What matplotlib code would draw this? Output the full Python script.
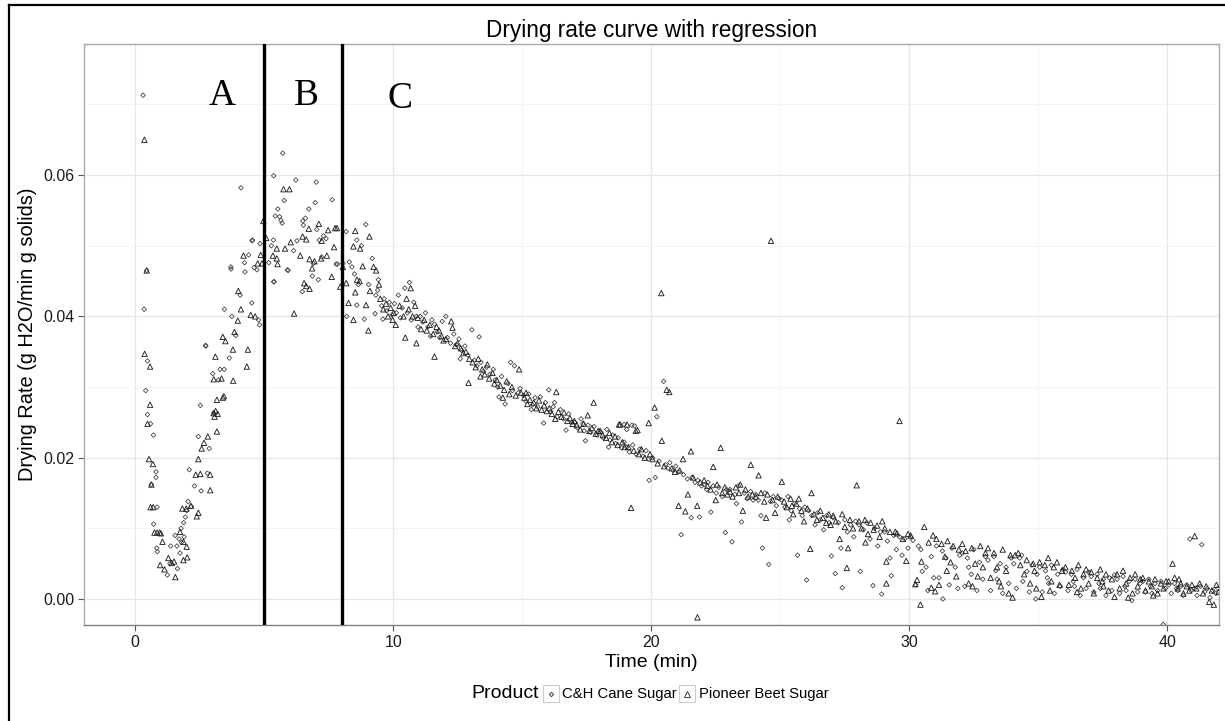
import matplotlib
matplotlib.use("Agg")
import matplotlib.pyplot as plt
from matplotlib.lines import Line2D
from matplotlib.patches import Rectangle
from matplotlib.ticker import MultipleLocator

# ---------------- data ----------------
cane_time = [
    0.31, 0.35, 0.45, 0.48, 0.41, 0.48, 0.60, 0.71, 0.81, 0.81, 0.63, 0.85, 0.72, 0.84, 0.86,
    1.25, 1.38, 1.62, 1.74, 1.64, 1.35, 1.55, 1.70, 1.80, 1.90, 1.78, 1.88, 1.95, 2.00, 2.05,
    2.18, 2.30, 2.56, 2.10, 2.45, 2.87, 2.80, 2.53, 2.73, 2.74, 3.01, 3.05, 3.29, 3.45, 3.23,
    3.46, 3.75, 3.71, 3.72, 4.24, 4.26, 4.61, 4.53, 4.55, 4.84, 4.72, 4.07, 4.52, 4.78, 4.82,
    4.10, 3.65, 3.90, 4.40,
    5.72, 5.37, 6.23, 7.02, 7.64, 5.78, 5.53, 5.43, 5.60, 5.65, 5.70, 6.73, 6.98, 5.36, 5.28,
    6.14, 5.18, 5.93, 5.37, 6.87, 7.10, 6.48, 7.79, 6.27, 6.50, 6.60, 6.52, 7.04, 7.30, 7.14,
    7.40, 7.23, 6.91, 7.84, 5.39, 5.90,
    8.05, 8.18, 8.20, 8.30, 8.40, 8.59, 8.59, 8.77, 8.88, 8.94, 8.65, 8.50,
    9.05, 9.19, 9.33, 9.43, 9.40, 9.55, 9.65, 9.75, 9.85, 9.95, 9.60, 9.30,
    10.05, 10.12, 10.20, 10.28, 10.35, 10.45, 10.55, 10.63, 10.70, 10.80, 10.90, 10.96,
    11.05, 11.15, 11.25, 11.35, 11.50, 11.60, 11.70, 11.90, 11.80, 11.45,
    12.04, 12.10, 12.22, 12.35, 12.45, 12.55, 12.65, 12.78, 12.90, 12.60,
    13.05, 13.15, 13.25, 13.33, 13.40, 13.50, 13.62, 13.75, 13.88, 13.95,
    14.05, 14.10, 14.20, 14.34, 14.45, 14.55, 14.70, 14.85, 14.92, 14.62,
    15.05, 15.15, 15.25, 15.40, 15.50, 15.60, 15.70, 15.83, 15.90, 15.35,
    16.03, 16.10, 16.20, 16.35, 16.48, 16.60, 16.70, 16.80, 16.92, 16.25,
    17.05, 17.15, 17.28, 17.40, 17.45, 17.55, 17.65, 17.78, 17.90, 17.35,
    18.05, 18.15, 18.28, 18.40, 18.50, 18.62, 18.72, 18.85, 18.95, 18.35,
    19.05, 19.15, 19.28, 19.35, 19.42, 19.55, 19.68, 19.80, 19.92, 19.88,
    20.05, 20.16, 20.22, 20.30, 20.48, 20.55, 20.65, 20.72, 20.85, 20.95,
    21.05, 21.16, 21.25, 21.40, 21.55, 21.58, 21.70, 21.80, 21.87, 21.95,
    22.05, 22.15, 22.31, 22.40, 22.52, 22.62, 22.75, 22.87, 22.92, 22.20,
    23.05, 23.13, 23.25, 23.38, 23.50, 23.60, 23.72, 23.85, 23.95, 23.30,
    24.05, 24.15, 24.31, 24.40, 24.55, 24.62, 24.72, 24.85, 24.95, 24.25,
    25.05, 25.18, 25.30, 25.42, 25.55, 25.67, 25.75, 25.85, 25.95, 25.35,
    26.02, 26.10, 26.22, 26.35, 26.45, 26.55, 26.68, 26.80, 26.90, 26.98,
    27.05, 27.13, 27.25, 27.40, 27.50, 27.60, 27.72, 27.85, 27.92, 27.35,
    28.05, 28.10, 28.22, 28.35, 28.48, 28.59, 28.65, 28.78, 28.93, 28.88,
    29.05, 29.15, 29.30, 29.40, 29.50, 29.62, 29.72, 29.82, 29.95, 29.25,
    30.05, 30.14, 30.25, 30.35, 30.45, 30.50, 30.65, 30.72, 30.85, 30.95,
    31.05, 31.15, 31.28, 31.30, 31.42, 31.55, 31.65, 31.78, 31.88, 31.95,
    32.05, 32.15, 32.25, 32.40, 32.50, 32.62, 32.72, 32.85, 32.95, 32.30,
    33.05, 33.15, 33.28, 33.40, 33.52, 33.62, 33.75, 33.85, 33.95, 33.35,
    34.05, 34.15, 34.28, 34.40, 34.56, 34.65, 34.75, 34.90, 34.95, 34.35,
    35.05, 35.15, 35.28, 35.40, 35.50, 35.62, 35.75, 35.85, 35.95, 35.35,
    36.05, 36.15, 36.28, 36.40, 36.50, 36.62, 36.75, 36.85, 36.95, 36.35,
    37.05, 37.15, 37.28, 37.40, 37.52, 37.62, 37.75, 37.85, 37.95, 37.35,
    38.05, 38.15, 38.28, 38.40, 38.52, 38.62, 38.75, 38.85, 38.95, 38.35,
    39.05, 39.15, 39.28, 39.40, 39.52, 39.62, 39.75, 39.84, 39.92, 39.35,
    40.05, 40.15, 40.28, 40.40, 40.52, 40.62, 40.75, 40.87, 40.92, 40.35,
    41.05, 41.15, 41.28, 41.33, 41.45, 41.55, 41.65, 41.75, 41.88, 41.95,
    18.95, 19.25, 19.05,
]
cane_rate = [
    .0713, .0410, .0465, .0337, .0295, .0261, .0248, .0232, .0180, .0172, .0162, .0130, .0106, .0072, .0067,
    .0034, .0075, .0075, .0065, .0043, .0050, .0090, .0085, .0080, .0088, .0100, .0108, .0116, .0125, .0138,
    .0131, .0160, .0153, .0183, .0230, .0213, .0178, .0274, .0359, .0358, .0319, .0263, .0325, .0325, .0310,
    .0410, .0400, .0470, .0467, .0476, .0463, .0469, .0507, .0508, .0503, .0466, .0430, .0419, .0395, .0388,
    .0582, .0341, .0373, .0487,
    .0631, .0599, .0593, .0590, .0565, .0564, .0552, .0542, .0541, .0536, .0532, .0552, .0561, .0508, .0500,
    .0493, .0476, .0465, .0449, .0457, .0452, .0435, .0474, .0507, .0535, .0539, .0529, .0523, .0514, .0508,
    .0510, .0484, .0475, .0474, .0449, .0466,
    .0475, .0520, .0400, .0477, .0470, .0508, .0416, .0500, .0396, .0530, .0445, .0460,
    .0445, .0482, .0430, .0452, .0437, .0415, .0425, .0408, .0420, .0402, .0396, .0404,
    .0418, .0405, .0430, .0398, .0412, .0440, .0405, .0448, .0395, .0420, .0400, .0385,
    .0400, .0392, .0405, .0385, .0395, .0389, .0378, .0393, .0370, .0372,
    .0400, .0370, .0362, .0375, .0360, .0368, .0352, .0358, .0345, .0340,
    .0381, .0338, .0330, .0371, .0335, .0322, .0328, .0318, .0325, .0310,
    .0300, .0286, .0315, .0276, .0305, .0335, .0330, .0292, .0298, .0295,
    .0288, .0280, .0290, .0275, .0285, .0272, .0286, .0249, .0278, .0268,
    .0296, .0265, .0272, .0258, .0268, .0255, .0239, .0262, .0250, .0278,
    .0250, .0242, .0255, .0238, .0224, .0246, .0236, .0244, .0232, .0248,
    .0236, .0228, .0240, .0225, .0232, .0220, .0228, .0214, .0222, .0215,
    .0215, .0208, .0218, .0245, .0205, .0212, .0202, .0210, .0168, .0198,
    .0200, .0172, .0258, .0195, .0308, .0190, .0185, .0193, .0182, .0188,
    .0180, .0091, .0176, .0170, .0115, .0172, .0165, .0168, .0116, .0160,
    .0162, .0155, .0123, .0160, .0150, .0158, .0145, .0094, .0155, .0165,
    .0155, .0081, .0148, .0160, .0109, .0150, .0142, .0152, .0140, .0135,
    .0148, .0140, .0072, .0150, .0049, .0138, .0145, .0132, .0142, .0118,
    .0140, .0130, .0145, .0125, .0135, .0062, .0128, .0118, .0130, .0112,
    .0027, .0125, .0118, .0105, .0122, .0112, .0098, .0118, .0108, .0061,
    .0115, .0036, .0108, .0016, .0112, .0095, .0105, .0088, .0110, .0072,
    .0105, .0039, .0098, .0108, .0085, .0019, .0100, .0075, .0007, .0095,
    .0095, .0082, .0033, .0090, .0070, .0088, .0062, .0085, .0072, .0058,
    .0088, .0083, .0020, .0075, .0070, .0039, .0045, .0012, .0060, .0030,
    .0075, .0030, .0068, .0000, .0058, .0020, .0072, .0045, .0015, .0062,
    .0065, .0018, .0058, .0035, .0070, .0012, .0052, .0028, .0060, .0045,
    .0055, .0012, .0060, .0028, .0050, .0008, .0045, .0022, .0058, .0040,
    .0050, .0015, .0058, .0025, .0039, .0010, .0048, .0000, .0035, .0062,
    .0045, .0010, .0040, .0022, .0048, .0008, .0035, .0018, .0042, .0030,
    .0038, .0012, .0035, .0018, .0042, .0005, .0030, .0015, .0038, .0025,
    .0032, .0010, .0035, .0015, .0028, .0005, .0030, .0012, .0034, .0022,
    .0028, .0008, .0032, .0012, .0025, -.0002, .0028, .0010, .0022, .0018,
    .0025, .0010, .0028, .0008, .0022, .0012, .0025, -.0036, .0015, .0018,
    .0020, .0008, .0022, .0012, .0018, .0005, .0020, .0085, .0012, .0015,
    .0015, .0005, .0018, .0077, .0010, .0015, .0002, .0012, .0008, .0015,
    .0247, .0246, .0240,
]

beet_time = [
    0.36, 0.45, 0.37, 0.58, 0.58, 0.48, 0.54, 0.69, 0.63, 0.60, 0.70, 0.75, 0.85, 0.95, 1.00,
    1.06, 0.97, 1.14, 1.56, 1.29, 1.42, 1.51, 1.74, 1.87, 2.00, 2.02, 1.87, 1.83, 1.98, 2.16,
    2.39, 2.45, 2.35, 2.53, 2.91, 2.91, 2.45, 2.58, 2.67, 2.82, 3.17, 3.04, 3.12, 3.20, 3.08,
    3.17, 3.40, 3.44, 3.05, 3.35, 3.80, 3.11, 3.40, 3.50, 3.79, 3.85, 3.98, 4.00, 4.10, 4.33,
    4.37, 4.48, 4.20, 4.87, 4.97, 4.65, 4.75, 4.92,
    5.75, 5.98, 6.73, 7.12, 7.48, 7.82, 6.49, 6.63, 7.23, 7.71, 5.08, 5.49, 5.81, 6.03, 6.40,
    6.76, 6.95, 7.21, 7.43, 5.34, 5.49, 5.52, 6.86, 7.62, 6.55, 6.63, 6.76, 6.16, 7.95, 7.75,
    8.05, 8.18, 8.27, 8.46, 8.46, 8.53, 8.53, 8.60, 8.72, 8.82, 8.95, 8.70,
    9.04, 9.08, 9.10, 9.24, 9.34, 9.45, 9.50, 9.62, 9.72, 9.80, 9.90, 9.98,
    10.02, 10.10, 10.25, 10.40, 10.47, 10.52, 10.60, 10.75, 10.85, 10.90, 10.95, 10.68,
    11.08, 11.20, 11.30, 11.42, 11.55, 11.60, 11.68, 11.78, 11.88, 11.95,
    12.05, 12.25, 12.30, 12.40, 12.50, 12.62, 12.72, 12.82, 12.92, 12.95,
    13.08, 13.20, 13.30, 13.45, 13.55, 13.65, 13.72, 13.85, 13.92, 13.38,
    14.02, 14.15, 14.30, 14.40, 14.50, 14.60, 14.75, 14.88, 14.95, 14.25,
    15.08, 15.20, 15.30, 15.45, 15.55, 15.65, 15.75, 15.85, 15.95, 15.15,
    16.05, 16.15, 16.32, 16.40, 16.52, 16.62, 16.75, 16.85, 16.95, 16.28,
    17.02, 17.12, 17.25, 17.38, 17.54, 17.60, 17.70, 17.77, 17.85, 17.95,
    18.02, 18.12, 18.25, 18.38, 18.48, 18.60, 18.70, 18.80, 18.88, 18.97,
    19.06, 19.12, 19.22, 19.32, 19.47, 19.52, 19.62, 19.75, 19.90, 19.95,
    20.05, 20.13, 20.25, 20.39, 20.41, 20.50, 20.60, 20.70, 20.80, 20.92,
    21.06, 21.10, 21.23, 21.32, 21.42, 21.54, 21.62, 21.78, 21.79, 21.90,
    22.05, 22.18, 22.30, 22.40, 22.55, 22.69, 22.75, 22.85, 22.95, 22.50,
    23.05, 23.15, 23.28, 23.40, 23.55, 23.65, 23.75, 23.86, 23.92, 23.45,
    24.05, 24.16, 24.25, 24.38, 24.50, 24.64, 24.70, 24.80, 24.90, 24.45,
    25.06, 25.15, 25.25, 25.40, 25.50, 25.62, 25.72, 25.82, 25.92, 25.45,
    26.05, 26.16, 26.21, 26.30, 26.42, 26.55, 26.65, 26.78, 26.88, 26.95,
    27.05, 27.15, 27.30, 27.40, 27.58, 27.63, 27.70, 27.82, 27.96, 27.50,
    28.05, 28.15, 28.28, 28.40, 28.50, 28.62, 28.75, 28.85, 28.95, 28.30,
    29.05, 29.11, 29.11, 29.25, 29.46, 29.52, 29.62, 29.75, 29.88, 29.95,
    30.05, 30.23, 30.30, 30.43, 30.47, 30.58, 30.75, 30.85, 30.92, 31.00,
    31.05, 31.15, 31.25, 31.38, 31.48, 31.60, 31.70, 31.82, 31.92, 31.45,
    32.05, 32.18, 32.30, 32.42, 32.55, 32.65, 32.75, 32.85, 32.95, 32.45,
    33.05, 33.15, 33.28, 33.40, 33.55, 33.62, 33.75, 33.85, 33.92, 33.48,
    34.00, 34.10, 34.22, 34.30, 34.45, 34.55, 34.68, 34.80, 34.92, 34.85,
    35.05, 35.12, 35.25, 35.38, 35.50, 35.60, 35.72, 35.82, 35.92, 35.45,
    36.05, 36.18, 36.30, 36.42, 36.55, 36.65, 36.75, 36.85, 36.95, 36.50,
    37.05, 37.15, 37.28, 37.40, 37.52, 37.62, 37.72, 37.85, 37.95, 37.48,
    38.05, 38.15, 38.28, 38.40, 38.55, 38.65, 38.75, 38.85, 38.95, 38.48,
    39.05, 39.15, 39.28, 39.40, 39.52, 39.62, 39.75, 39.85, 39.95, 39.45,
    40.05, 40.20, 40.28, 40.40, 40.52, 40.62, 40.75, 40.85, 40.95, 40.45,
    41.06, 41.12, 41.25, 41.38, 41.50, 41.62, 41.72, 41.80, 41.90, 41.98,
    18.75, 19.40,
]
beet_rate = [
    .0650, .0465, .0347, .0329, .0275, .0248, .0198, .0191, .0162, .0130, .0130, .0094, .0094, .0094, .0093,
    .0081, .0048, .0042, .0031, .0058, .0051, .0053, .0095, .0081, .0074, .0059, .0055, .0128, .0128, .0132,
    .0117, .0122, .0176, .0177, .0176, .0154, .0198, .0213, .0221, .0230, .0237, .0263, .0266, .0262, .0258,
    .0282, .0285, .0287, .0311, .0312, .0309, .0343, .0371, .0365, .0353, .0378, .0394, .0436, .0410, .0329,
    .0353, .0402, .0486, .0487, .0535, .0400, .0475, .0475,
    .0580, .0580, .0524, .0531, .0522, .0525, .0513, .0509, .0507, .0498, .0511, .0496, .0496, .0505, .0486,
    .0481, .0478, .0482, .0486, .0486, .0482, .0474, .0468, .0456, .0447, .0443, .0439, .0404, .0442, .0525,
    .0470, .0447, .0419, .0499, .0395, .0521, .0434, .0452, .0496, .0471, .0416, .0450,
    .0380, .0513, .0436, .0470, .0465, .0445, .0425, .0410, .0418, .0400, .0412, .0395,
    .0405, .0388, .0415, .0400, .0370, .0425, .0410, .0400, .0415, .0362, .0398, .0440,
    .0382, .0395, .0380, .0388, .0375, .0343, .0385, .0380, .0372, .0366,
    .0368, .0393, .0384, .0358, .0362, .0355, .0348, .0350, .0306, .0340,
    .0335, .0328, .0340, .0325, .0318, .0332, .0312, .0320, .0305, .0315,
    .0310, .0302, .0296, .0308, .0290, .0300, .0288, .0325, .0292, .0285,
    .0285, .0276, .0282, .0278, .0270, .0281, .0268, .0274, .0266, .0292,
    .0270, .0262, .0293, .0265, .0258, .0264, .0252, .0256, .0248, .0255,
    .0252, .0246, .0240, .0248, .0260, .0238, .0242, .0278, .0234, .0238,
    .0238, .0232, .0228, .0235, .0222, .0230, .0218, .0247, .0222, .0215,
    .0247, .0215, .0129, .0210, .0239, .0205, .0212, .0200, .0249, .0205,
    .0198, .0271, .0192, .0433, .0224, .0188, .0296, .0293, .0185, .0180,
    .0132, .0182, .0198, .0124, .0148, .0209, .0172, .0132, -.0026, .0165,
    .0168, .0160, .0155, .0187, .0162, .0214, .0150, .0158, .0148, .0140,
    .0152, .0145, .0158, .0150, .0125, .0155, .0145, .0190, .0148, .0162,
    .0145, .0175, .0150, .0138, .0148, .0507, .0140, .0122, .0145, .0115,
    .0166, .0138, .0130, .0142, .0120, .0135, .0142, .0125, .0110, .0132,
    .0128, .0071, .0150, .0120, .0112, .0125, .0115, .0108, .0120, .0105,
    .0118, .0110, .0085, .0120, .0044, .0072, .0112, .0100, .0161, .0102,
    .0110, .0100, .0112, .0092, .0108, .0098, .0104, .0088, .0110, .0080,
    .0100, .0053, .0022, .0095, .0095, .0093, .0252, .0085, .0054, .0092,
    .0090, .0021, .0027, -.0008, .0053, .0102, .0080, .0016, .0090, .0011,
    .0085, .0020, .0078, .0060, .0082, .0052, .0075, .0032, .0070, .0040,
    .0078, .0068, .0022, .0072, .0050, .0032, .0075, .0045, .0065, .0018,
    .0072, .0030, .0065, .0045, .0018, .0070, .0040, .0008, .0062, .0025,
    .0002, .0062, .0065, .0048, .0035, .0055, .0022, .0050, .0015, .0040,
    .0052, .0003, .0048, .0058, .0025, .0045, .0052, .0020, .0040, .0012,
    .0045, .0020, .0040, .0030, .0048, .0015, .0035, .0042, .0022, .0010,
    .0038, .0008, .0030, .0042, .0018, .0035, .0012, .0028, .0003, .0025,
    .0035, .0015, .0040, .0022, .0030, .0008, .0035, .0018, .0028, .0002,
    .0030, .0012, .0025, .0018, .0028, .0008, .0022, .0015, .0025, .0005,
    .0025, .0050, .0030, .0015, .0022, .0008, .0018, .0012, .0020, .0028,
    .0089, .0015, .0022, .0008, .0018, -.0004, .0012, -.0008, .0020, .0010,
    .0247, .0238,
]

products = ["C&H Cane Sugar", "Pioneer Beet Sugar"]
phase_bounds = [5, 8]
phase_labels = ["A", "B", "C"]
phase_label_x = [3.37, 6.65, 10.26]
phase_label_y = [0.0712, 0.0712, 0.0708]
x_ticks = [0, 10, 20, 30, 40]
y_ticks = [0.00, 0.02, 0.04, 0.06]

# ---------------- figure ----------------
W, H = 1225, 721
fig = plt.figure(figsize=(W / 100, H / 100), dpi=100)
fig.patch.set_facecolor("white")
ax = fig.add_axes([84 / W, 1 - 625 / H, (1219 - 84) / W, (625 - 44) / H])

sans = "Liberation Sans"
serif = "Liberation Serif"

ax.set_xlim(-1.98, 42.0)
ax.set_ylim(-0.00368, 0.07855)

ax.xaxis.set_major_locator(MultipleLocator(10))
ax.xaxis.set_minor_locator(MultipleLocator(5))
ax.yaxis.set_major_locator(MultipleLocator(0.02))
ax.yaxis.set_minor_locator(MultipleLocator(0.01))
ax.grid(which="major", color="#e6e6e6", linewidth=0.9)
ax.grid(which="minor", color="#f3f3f3", linewidth=0.6)
ax.set_axisbelow(True)

ax.set_xticks(x_ticks)
ax.set_xticklabels([str(v) for v in x_ticks], fontfamily=sans, fontsize=11.5)
ax.set_yticks(y_ticks)
ax.set_yticklabels([f"{v:.2f}" for v in y_ticks], fontfamily=sans, fontsize=11.5)
ax.tick_params(which="major", length=4, width=0.8, color="#555555", labelcolor="#1a1a1a", pad=3)
ax.tick_params(which="minor", length=0)

for s in ax.spines.values():
    s.set_color("#aaaaaa")
    s.set_linewidth(1.0)
ax.spines["bottom"].set_color("#808080")

ax.scatter(cane_time, cane_rate, marker="D", s=5.5, facecolors="none",
           edgecolors="#3a3a3a", linewidths=0.55, zorder=3)
ax.scatter(beet_time, beet_rate, marker="^", s=15, facecolors="none",
           edgecolors="#222222", linewidths=0.65, zorder=3)

for b in phase_bounds:
    ax.axvline(b, color="black", linewidth=2.4, zorder=4)
for lab, lx, ly in zip(phase_labels, phase_label_x, phase_label_y):
    ax.text(lx, ly, lab, fontfamily=serif, fontsize=27, ha="center", va="center", color="black")

ax.set_title("Drying rate curve with regression", fontfamily=sans, fontsize=16.3, pad=5)
ax.set_xlabel("Time (min)", fontfamily=sans, fontsize=14, labelpad=3)
ax.set_ylabel("Drying Rate (g H2O/min g solids)", fontfamily=sans, fontsize=14.4, labelpad=4)

# ---------------- legend (bottom, horizontal) ----------------
ly = 1 - 694 / H
fig.text(471 / W, ly, "Product", fontfamily=sans, fontsize=14, ha="left", va="center")
key_x = [543, 679]
label_x = [562, 699]
markers = ["D", "^"]
msizes = [2.2, 3.8]
for kx, tx, m, ms, lab in zip(key_x, label_x, markers, msizes, products):
    fig.add_artist(Rectangle((kx / W, 1 - 702 / H), 16 / W, 17 / H, transform=fig.transFigure,
                             facecolor="white", edgecolor="#cccccc", linewidth=0.8))
    fig.add_artist(Line2D([(kx + 8) / W], [1 - 693.5 / H], transform=fig.transFigure, marker=m,
                          markersize=ms, markerfacecolor="none", markeredgecolor="#222222",
                          markeredgewidth=0.6, linestyle="none"))
    fig.text(tx / W, ly, lab, fontfamily=sans, fontsize=10.7, ha="left", va="center")

# outer frame (left and top edges visible)
fig.add_artist(Line2D([8.5 / W, 8.5 / W], [0, 1 - 5 / H], transform=fig.transFigure, color="black", linewidth=1.6))
fig.add_artist(Line2D([8.5 / W, 1], [1 - 5 / H, 1 - 5 / H], transform=fig.transFigure, color="black", linewidth=1.6))

fig.savefig("out.png", dpi=100, facecolor="white")
